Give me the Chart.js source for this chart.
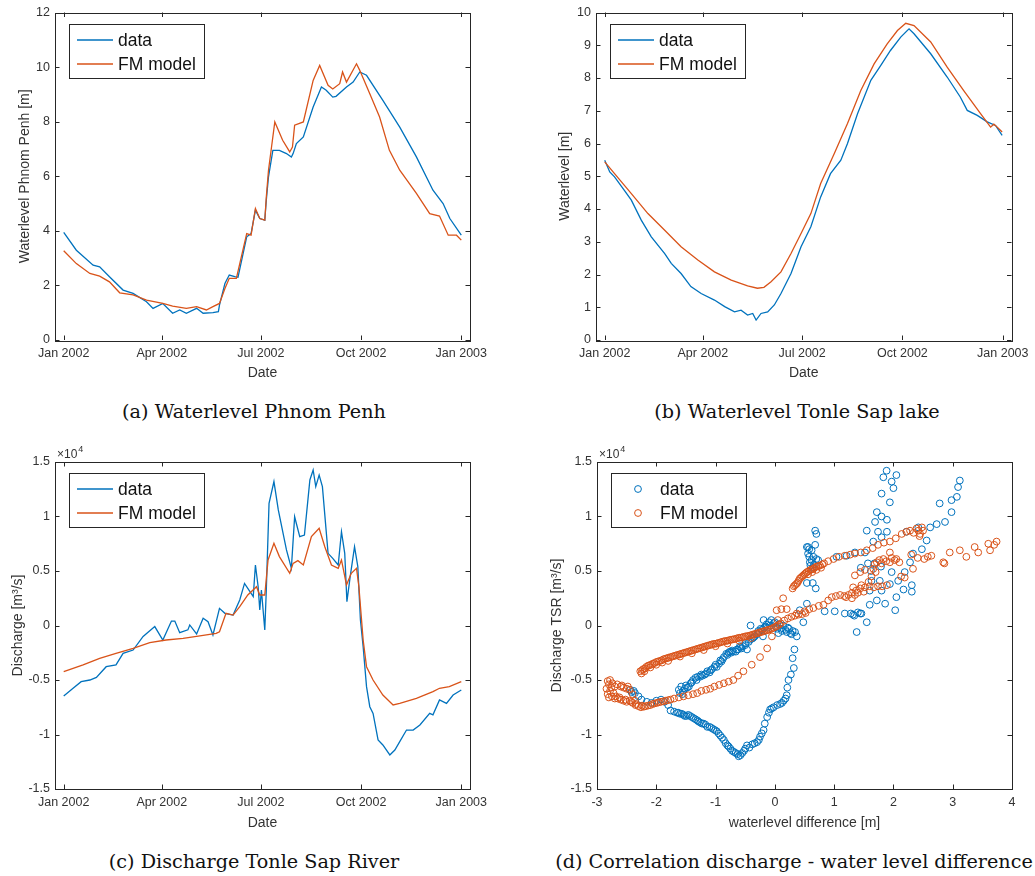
<!DOCTYPE html>
<html>
<head>
<meta charset="utf-8">
<script src="https://cdn.jsdelivr.net/npm/chart.js@4.4.1/dist/chart.umd.min.js"></script>
<style>
  body { margin: 0; background: #fff; }
  #fig { position: relative; width: 1035px; height: 876px; background: #fff; overflow: hidden; }
  .panel { position: absolute; }
  .caption {
    position: absolute; transform: translateX(-50%); white-space: nowrap;
    font-family: "DejaVu Serif", serif; font-size: 19.2px; line-height: 1; color: #111;
  }
</style>
</head>
<body>
<div id="fig">
  <div class="panel" style="left:0;top:0;width:515px;height:395px"><canvas id="chartA"></canvas></div>
  <div class="panel" style="left:515px;top:0;width:520px;height:395px"><canvas id="chartB"></canvas></div>
  <div class="panel" style="left:0;top:440px;width:515px;height:395px"><canvas id="chartC"></canvas></div>
  <div class="panel" style="left:515px;top:440px;width:520px;height:395px"><canvas id="chartD"></canvas></div>
  <div class="caption" style="left:254px;top:402px">(a) Waterlevel Phnom Penh</div>
  <div class="caption" style="left:797px;top:402px">(b) Waterlevel Tonle Sap lake</div>
  <div class="caption" style="left:254px;top:852px">(c) Discharge Tonle Sap River</div>
  <div class="caption" style="left:794px;top:852px">(d) Correlation discharge - water level difference</div>
</div>
<script>
const BLUE = '#0072BD';
const ORANGE = '#D95319';
const AXIS_COLOR = '#262626';
const TEXT_COLOR = '#333333';
const FONT = '"Liberation Sans", Arial, sans-serif';

// x axis of the time series: day of year 2002
const TICK_DAYS = [0, 90, 181, 273, 365];
const TICK_LABELS = ['Jan 2002', 'Apr 2002', 'Jul 2002', 'Oct 2002', 'Jan 2003'];

// (a) waterlevel Phnom Penh [m]
const ppDays = [0, 11.6, 27, 33, 42, 54.5, 63.7, 76, 82, 91, 100, 106.5, 112.6, 122, 128, 137, 142, 143, 148, 152,
  157, 160, 168, 172, 176, 180, 184.6, 186, 188, 192, 198, 204.5, 209, 210.6, 213.6, 220, 229, 236.6, 241, 247,
  250, 259.6, 265.7, 271.8, 278, 293, 308.5, 323.8, 339, 348.3, 354.5, 365];
const ppData = [3.94, 3.29, 2.74, 2.68, 2.32, 1.83, 1.71, 1.40, 1.16, 1.34, 0.98, 1.10, 0.98, 1.16, 0.98, 1.0, 1.04, 1.28, 2.07, 2.38,
  2.32, 2.3, 3.78, 3.9, 4.76, 4.45, 4.39, 5.12, 5.98, 6.95, 6.95, 6.83, 6.7, 6.83, 7.2, 7.44, 8.54, 9.27, 9.15, 8.9,
  8.93, 9.27, 9.45, 9.82, 9.7, 8.78, 7.8, 6.71, 5.49, 5.0, 4.45, 3.84];
const ppModelDays = [0, 11.6, 24, 33, 42, 51.4, 63.7, 76, 91, 100, 112.6, 122, 131, 137, 143, 148, 152, 158.5, 168, 172,
  176, 180, 184.6, 186, 188, 193.8, 201, 207.5, 210, 212, 220, 229, 235, 242.7, 247, 253.4, 256, 259.6, 268.8, 271.8,
  281, 290, 299, 308.5, 323.8, 336, 345, 353, 360.6, 365];
const ppModel = [3.27, 2.80, 2.44, 2.34, 2.13, 1.73, 1.65, 1.46, 1.34, 1.24, 1.16, 1.22, 1.10, 1.22, 1.34, 1.89, 2.26, 2.26, 3.9, 3.84,
  4.82, 4.45, 4.39, 5.24, 6.22, 7.99, 7.32, 6.89, 7.07, 7.87, 7.99, 9.51, 10.06, 9.33, 9.2, 9.39, 9.82, 9.45, 10.12, 9.88,
  9.02, 8.17, 6.95, 6.22, 5.37, 4.63, 4.54, 3.84, 3.84, 3.66];

// (b) waterlevel Tonle Sap lake [m]
const tslDays = [0, 4.6, 9, 18, 24.4, 33.5, 42.7, 55, 61, 70, 79, 88.4, 100.6, 110, 119, 125, 131, 135.7, 138.8, 143.3,
  149.4, 155.5, 161.6, 170.8, 180, 189, 198, 207, 216.5, 222.6, 231.8, 244, 253, 262, 271.4, 279, 283.6, 298.9, 314, 326,
  332.4, 341.6, 350.7, 358.3, 364.4];
const tslData = [5.49, 5.13, 4.98, 4.57, 4.27, 3.66, 3.15, 2.64, 2.34, 2.03, 1.63, 1.42, 1.22, 1.02, 0.86, 0.91, 0.76, 0.81, 0.61, 0.81,
  0.86, 1.07, 1.42, 2.03, 2.85, 3.46, 4.37, 5.08, 5.49, 6.0, 6.91, 7.93, 8.38, 8.84, 9.25, 9.5, 9.35, 8.74, 8.03, 7.42,
  7.01, 6.86, 6.66, 6.55, 6.25];
const tslModelDays = [0, 9, 24.4, 39.6, 55, 70, 85.4, 100.6, 116, 131, 140, 146, 152.5, 161.6, 170.8, 180, 189, 198, 210.4, 222.6,
  234.8, 247, 259, 268.4, 276, 283.6, 298.9, 314, 329, 344.6, 353.8, 356.8, 359.9, 364.4];
const tslModel = [5.44, 5.08, 4.47, 3.86, 3.35, 2.85, 2.44, 2.08, 1.83, 1.65, 1.58, 1.61, 1.78, 2.08, 2.64, 3.25, 3.86, 4.78, 5.69, 6.61,
  7.62, 8.43, 9.04, 9.45, 9.67, 9.6, 9.1, 8.33, 7.62, 6.91, 6.5, 6.59, 6.5, 6.35];

// (c) discharge Tonle Sap River [m3/s]
const tsrDays = [0, 8.6, 16, 24, 30, 39, 48, 54.5, 63.7, 72.9, 83.6, 91, 98.9, 102, 106.5, 114, 115.7, 122, 128, 132.5,
  137, 143, 148, 155.5, 161.6, 166, 169, 174, 176, 178.5, 180, 181.5, 184.6, 186, 188.5, 193, 197, 204.5, 209, 212,
  216.7, 221, 226, 229, 231.4, 234.5, 237.5, 242.7, 247, 252, 255, 258, 260, 263, 267, 270, 272.4, 274.9, 278, 281,
  284, 288.6, 293, 299.4, 304, 308.5, 314.7, 320.8, 327, 336, 339, 345, 351.4, 357.5, 365];
const tsrData = [-6470, -5760, -5150, -5000, -4760, -3780, -3620, -2550, -2250, -1000, -100, -1330, 410, 410, -660, -400, 50, -780, 660, 350,
  -870, 1570, 1120, 960, 2340, 3860, 3400, 2650, 5550, 3560, 1420, 3250, -410, 3250, 11200, 13200, 10600, 6930, 5250, 9980,
  8150, 8300, 13350, 14270, 12740, 13800, 12740, 6620, 6160, 5550, 8610, 6620, 2190, 4480, 7230, 5400, 500, -1940, -5610, -7450,
  -8060, -10500, -10960, -11880, -11420, -10660, -9590, -9590, -9130, -8060, -8200, -6830, -7140, -6380, -5920];
const tsrModelDays = [0, 17.8, 33, 48, 63.7, 79, 94, 109.6, 125, 140, 143, 149, 155.5, 161.6, 169, 177, 180, 184.6, 187.6, 193,
  198, 207.5, 210.6, 215, 220, 227.4, 234.5, 239.7, 245.8, 252, 255, 259.6, 264, 268.8, 271, 274.9, 278, 284, 293, 302.4,
  308.5, 323.8, 339, 345, 354, 365];
const tsrModel = [-4240, -3620, -3010, -2550, -2100, -1570, -1330, -1180, -960, -720, -570, 1120, 960, 1730, 2800, 3560, 2800, 2800, 6010, 7540,
  6320, 4790, 5700, 5950, 5550, 8150, 8910, 7230, 5550, 5250, 6010, 3720, 4790, 5250, 3560, -1330, -3780, -5000, -6380, -7290,
  -7140, -6680, -6070, -5760, -5610, -5150];

// (d) [waterlevel difference m, discharge m3/s]
const dataScatter = [
  [-1.6, -6200], [-1.55, -6000], [-1.52, -5800], [-1.58, -5600], [-1.5, -5500], [-1.45, -5600], [-1.42, -5300], [-1.38, -5000],
  [-1.34, -4800], [-1.3, -4700], [-1.26, -4700], [-1.22, -4600], [-1.18, -4500], [-1.14, -4200], [-1.1, -4300], [-1.06, -4000],
  [-1.02, -3800], [-0.98, -3800], [-0.94, -3500], [-0.9, -3300], [-0.86, -2900], [-0.82, -2600], [-0.78, -2500], [-0.74, -2500],
  [-0.7, -2400], [-0.66, -2400], [-0.62, -2200], [-0.58, -2000], [-0.54, -1900], [-0.5, -1800], [-0.47, -2200], [-0.44, -1500],
  [-0.41, 0], [-0.38, -1200], [-0.34, -1000], [-0.3, -800], [-0.26, -600], [-0.22, -400], [-0.19, 500], [-0.18, -200],
  [-0.14, 100], [-0.1, 300], [-0.06, 500], [-0.02, 200], [0.02, -100], [0.06, -700], [0.1, -300], [0.14, 0],
  [0.18, -400], [0.22, -200], [0.26, -700], [0.3, -500], [0.37, -1000], [-0.2, -1000], [-0.42, -1300], [-0.59, -1900], [-0.76, -2400],
  [-1.62, -5900], [-1.56, -6300], [-1.48, -5700], [-1.4, -5200], [-1.32, -5000], [-1.24, -4500], [-1.16, -4400], [-1.08, -4100],
  [-1.0, -3600], [-0.92, -3200], [-0.88, -3100], [-0.8, -2700], [-0.72, -2300], [-0.64, -2200], [-0.56, -2100], [-0.49, -1600],
  [-0.36, -1100], [-0.28, -500], [-0.16, -100], [-0.08, 0], [0.0, 300], [0.04, -300], [0.08, 100], [0.12, -500], [0.2, -600],
  [0.24, -300], [0.28, -800], [0.34, -600], [-0.12, -200], [-0.24, -300],
  [0.33, -2200], [0.3, -3000], [0.32, -3900], [0.23, -5000], [0.2, -6400], [0.15, -6900], [0.09, -7200], [-0.02, -7500],
  [-0.08, -7700], [-0.13, -8400], [-0.17, -9000], [-0.19, -9600], [-0.25, -10200], [-0.3, -10700], [-0.38, -10900], [-0.47, -11000],
  [-0.52, -11500], [-0.58, -11900], [-0.63, -11800], [-0.69, -11600], [-0.75, -11300], [-0.8, -11000], [-0.86, -10500], [-0.92, -10100],
  [-0.98, -9700], [-1.04, -9500], [-1.1, -9300], [-1.14, -9300], [-1.2, -9000], [-1.26, -8900], [-1.31, -8700], [-1.37, -8500],
  [-1.43, -8300], [-1.49, -8300], [-1.54, -8200], [-1.6, -8100], [-1.65, -8000], [-1.7, -7900], [-1.76, -7800], [-1.8, -7300],
  [-1.86, -7000], [-1.92, -6800], [-2.0, -6900], [-2.08, -7100], [-2.16, -7000], [-2.25, -6800], [-2.3, -6500], [-2.36, -6200],
  [-2.42, -6100], [-2.38, -6000], [-2.44, -5900],
  [-0.22, -9900], [-0.27, -10500], [-0.34, -10800], [-0.43, -11200], [-0.5, -11300], [-0.55, -11700], [-0.61, -12000], [-0.66, -11700],
  [-0.72, -11500], [-0.78, -11100], [-0.83, -10800], [-0.89, -10300], [-0.95, -9900], [-1.01, -9600], [-1.07, -9400], [-1.17, -9100],
  [-1.23, -9000], [-1.29, -8800], [-1.34, -8600], [-1.4, -8400], [-1.46, -8200], [-1.52, -8300], [-1.57, -8100], [-1.63, -8000],
  [-0.1, -8000], [-0.05, -7600], [0.04, -7300], [0.12, -7100], [0.18, -6700], [0.21, -5700], [0.27, -4500],
  [0.48, 300], [0.42, 1400], [0.54, 2000], [0.56, 7200], [0.56, 6600], [0.59, 5800], [0.62, 6000], [0.65, 6300], [0.68, 7400],
  [0.73, 6000], [0.68, 8700], [0.7, 8400], [0.64, 3900], [0.69, 3400], [0.54, 3900], [0.6, 5500], [0.54, 7200],
  [0.58, 6300], [0.62, 6900], [0.66, 5600], [0.7, 6100], [0.58, 7000], [0.64, 5300],
  [0.84, 1300], [1.01, 1300], [1.18, 1100], [1.32, 1000], [1.44, 1100], [1.38, -600], [1.55, 300], [1.6, 1900], [1.72, 2300],
  [1.86, 2000], [2.03, 1400], [2.05, 2600], [2.17, 3300], [2.31, 3700], [1.04, 6300], [1.21, 6400], [1.35, 6700], [1.45, 5300],
  [1.52, 6700], [1.62, 5000], [1.66, 7700], [1.55, 8700], [1.74, 8600], [1.89, 8600], [1.8, 8100], [1.69, 9500], [1.72, 10400],
  [1.8, 10000], [1.89, 9700], [1.8, 12100], [1.94, 11300], [1.83, 13600], [1.885, 14200], [1.97, 13200], [2.05, 13800],
  [2.0, 12600], [1.63, 4100], [1.77, 4100], [1.94, 3800], [2.08, 4100], [2.19, 4900], [2.28, 5800], [2.33, 6600], [2.48, 7000],
  [2.56, 7800], [2.22, 8600], [2.42, 9000], [2.62, 9000], [2.73, 9300], [2.87, 9500], [2.78, 11200], [2.98, 10400],
  [2.98, 11500], [3.07, 11800], [3.09, 12700], [3.12, 13300], [1.6, 3200], [1.8, 3200], [2.31, 3100], [1.97, 4900],
  [1.46, 1100], [1.68, 5700], [1.79, 5400], [1.57, 5700], [1.34, 900], [1.28, 1100], [1.4, 1200]
];
const fmScatter = [
  [-2.27, -4200], [-2.25, -4400], [-2.22, -4000], [-2.2, -4200], [-2.17, -3800], [-2.12, -3650], [-2.1, -3850], [-2.06, -3500],
  [-2.0, -3350], [-1.94, -3250], [-1.9, -3400], [-1.88, -3100], [-1.82, -3000], [-1.76, -2900], [-1.7, -2800], [-1.64, -2700],
  [-1.58, -2600], [-1.52, -2500], [-1.46, -2400], [-1.4, -2300], [-1.34, -2200], [-1.28, -2100], [-1.22, -2000], [-1.16, -1900],
  [-1.1, -1800], [-1.04, -1700], [-0.98, -1650], [-0.92, -1550], [-0.86, -1450], [-0.8, -1400], [-0.74, -1300], [-0.68, -1250],
  [-0.62, -1150], [-0.56, -1100], [-0.5, -1000], [-0.44, -950], [-0.38, -850], [-0.32, -750], [-0.26, -650], [-0.2, -550],
  [-0.14, -450], [-0.08, -350], [-0.02, -200], [0.04, -50], [0.1, 200], [0.16, 450], [0.22, 650], [0.28, 800],
  [0.34, 900], [0.4, 1000], [0.46, 1050], [0.52, 1150],
  [-2.24, -4100], [-2.19, -3950], [-2.14, -3700], [-2.09, -3600], [-2.03, -3450], [-1.97, -3300], [-1.91, -3200], [-1.85, -3050],
  [-1.79, -2950], [-1.73, -2850], [-1.67, -2750], [-1.61, -2650], [-1.55, -2550], [-1.49, -2450], [-1.43, -2350], [-1.37, -2250],
  [-1.31, -2150], [-1.25, -2050], [-1.19, -1950], [-1.13, -1850], [-1.07, -1750], [-1.01, -1680], [-0.95, -1600], [-0.89, -1500],
  [-0.83, -1420], [-0.77, -1350], [-0.71, -1280], [-0.65, -1200], [-0.59, -1120], [-0.53, -1050], [-0.47, -980], [-0.41, -900],
  [-0.35, -800], [-0.29, -700], [-0.23, -600], [-0.17, -500], [-0.11, -400], [-0.05, -280], [0.01, -120], [0.07, 80],
  [-2.0, -3600], [-1.8, -3250], [-1.6, -2850], [-1.4, -2550], [-1.2, -2250], [-1.0, -1900], [-0.8, -1650], [-0.6, -1400],
  [-0.4, -1150],
  [0.03, 1400], [0.14, 2500], [0.11, 1500], [0.37, 1100], [0.5, 1300], [0.58, 1500], [0.65, 1600], [0.74, 1800],
  [0.82, 1900], [0.9, 2300], [0.96, 2600], [1.03, 2700], [1.1, 2800], [1.17, 2700], [1.24, 2800], [1.3, 3000],
  [1.37, 3200], [1.44, 3400], [1.52, 3500], [1.6, 3600], [1.67, 3500], [1.74, 3600], [1.81, 3600], [1.89, 3700],
  [0.3, 3400], [0.34, 3700], [0.38, 3900], [0.42, 4300], [0.46, 4500], [0.5, 4700], [0.54, 4900], [0.6, 5100],
  [0.65, 5200], [0.7, 5400], [0.76, 5500], [0.83, 5700], [0.9, 5900], [0.99, 6100], [1.08, 6300], [1.18, 6400],
  [1.27, 6500], [1.35, 6600], [1.45, 6700], [1.55, 6900], [1.65, 7100], [1.74, 7400], [1.84, 7600], [1.94, 7700],
  [2.04, 8000], [2.14, 8400], [2.22, 8600], [2.28, 8700], [2.34, 8500], [2.39, 8900], [2.42, 8700], [2.45, 8400],
  [2.48, 9000], [2.5, 8700], [2.44, 8200],
  [0.32, 3600], [0.36, 3800], [0.4, 4100], [0.44, 4400], [0.48, 4600], [0.52, 4800], [0.57, 5000], [0.62, 5150],
  [0.67, 5300], [0.73, 5450], [0.8, 5600], [0.56, 4700], [0.63, 4900], [0.7, 5100], [0.78, 5300],
  [1.2, 2600], [1.3, 2500], [1.35, 2800], [1.4, 3000], [1.5, 3100], [1.35, 4600], [1.44, 4900], [1.52, 5100],
  [1.58, 4000], [1.63, 4500], [1.66, 5200], [1.68, 5600], [1.72, 5800], [1.76, 6000], [1.8, 5700], [1.83, 6100],
  [1.88, 5900], [1.94, 5800], [1.97, 6200], [2.02, 6000], [2.05, 6100], [2.1, 5800], [2.13, 4500], [2.19, 4400],
  [1.94, 6700], [1.7, 4900], [1.32, 3500], [1.46, 3700], [2.3, 6500], [2.33, 5200], [2.41, 6200], [2.52, 6100],
  [2.58, 6300], [2.64, 6400], [2.84, 5800], [2.86, 5700], [2.95, 6700], [3.12, 6900], [3.23, 6300], [3.37, 7200],
  [3.43, 6700], [3.6, 7500], [3.63, 6900], [3.7, 7400], [3.74, 7700],
  [0.2, 1500], [0.05, 500], [-0.05, -1000], [-0.13, -2100], [-0.25, -2900], [-0.39, -3600],
  [-0.53, -4200], [-0.62, -4600], [-0.7, -5000], [-0.78, -5150], [-0.86, -5300], [-0.94, -5450], [-1.02, -5600], [-1.09, -5800],
  [-1.16, -5900], [-1.24, -6000], [-1.31, -6200], [-1.38, -6300], [-1.46, -6400], [-1.54, -6500], [-1.62, -6600], [-1.7, -6700],
  [-1.76, -6800], [-1.84, -6900], [-1.92, -7000], [-1.99, -7100], [-2.06, -7200], [-2.14, -7350], [-2.21, -7450], [-2.26, -7500],
  [-1.8, -6850], [-1.88, -6950], [-1.96, -7050], [-2.03, -7150], [-2.1, -7300], [-2.18, -7400], [-2.24, -7350],
  [-2.3, -7400], [-2.35, -7300], [-2.4, -7100], [-2.45, -6900], [-2.5, -7000], [-2.55, -6900], [-2.6, -6800], [-2.65, -6700],
  [-2.7, -6700], [-2.75, -6500], [-2.8, -6600], [-2.82, -6300], [-2.84, -5800], [-2.78, -6000], [-2.82, -5100], [-2.78, -5000],
  [-2.74, -5300], [-2.7, -5600], [-2.66, -5400], [-2.6, -5600], [-2.55, -5700], [-2.5, -5800], [-2.45, -5900], [-2.4, -6300],
  [-2.36, -6900], [-2.8, -5400], [-2.76, -5700], [-2.72, -6200], [-2.68, -6500], [-2.62, -6600], [-2.52, -6800], [-2.42, -7000],
  [-2.34, -7200], [-2.58, -5500], [-2.48, -5600]
];

// box around the axes with inward ticks on all four sides, like the original
const framePlugin = {
  id: 'frame',
  afterDatasetsDraw(chart) {
    const { ctx, chartArea: a, scales } = chart;
    const len = 4.5;
    ctx.save();
    ctx.strokeStyle = AXIS_COLOR;
    ctx.lineWidth = 1;
    ctx.beginPath();
    scales.x.ticks.forEach(t => {
      const px = Math.round(scales.x.getPixelForValue(t.value)) + 0.5;
      ctx.moveTo(px, a.bottom); ctx.lineTo(px, a.bottom - len);
      ctx.moveTo(px, a.top); ctx.lineTo(px, a.top + len);
    });
    scales.y.ticks.forEach(t => {
      const py = Math.round(scales.y.getPixelForValue(t.value)) + 0.5;
      ctx.moveTo(a.left, py); ctx.lineTo(a.left + len, py);
      ctx.moveTo(a.right, py); ctx.lineTo(a.right - len, py);
    });
    ctx.stroke();
    ctx.strokeRect(Math.round(a.left) + 0.5, Math.round(a.top) + 0.5, Math.round(a.width), Math.round(a.height));
    ctx.restore();
  }
};

// matlab style legend box in the upper left corner
const boxLegendPlugin = {
  id: 'boxLegend',
  afterDraw(chart, args, opts) {
    const { ctx, chartArea: a } = chart;
    const x0 = Math.round(a.left) + 14, y0 = Math.round(a.top) + 11, w = 135, h = 54;
    ctx.save();
    ctx.fillStyle = '#fff';
    ctx.fillRect(x0, y0, w, h);
    ctx.strokeStyle = AXIS_COLOR;
    ctx.lineWidth = 1;
    ctx.strokeRect(x0 + 0.5, y0 + 0.5, w, h);
    ctx.font = '17.5px ' + FONT;
    ctx.textBaseline = 'middle';
    chart.data.datasets.forEach((ds, i) => {
      const cy = y0 + 16 + i * 24;
      ctx.strokeStyle = ds.borderColor;
      ctx.lineWidth = opts.marker === 'circle' ? 1 : 1.3;
      ctx.beginPath();
      if (opts.marker === 'circle') ctx.arc(x0 + 27, cy, 3.4, 0, Math.PI * 2);
      else { ctx.moveTo(x0 + 8, cy); ctx.lineTo(x0 + 44, cy); }
      ctx.stroke();
      ctx.fillStyle = '#111';
      ctx.fillText(ds.label, x0 + 49, cy + 1);
    });
    ctx.restore();
  }
};

// "x10^4" exponent above the y axis
const exponentPlugin = {
  id: 'exponent',
  afterDraw(chart) {
    const { ctx, chartArea: a } = chart;
    ctx.save();
    ctx.fillStyle = TEXT_COLOR;
    ctx.textBaseline = 'middle';
    ctx.font = '12px ' + FONT;
    ctx.fillText('×10', a.left + 2, a.top - 7);
    const w = ctx.measureText('×10').width;
    ctx.font = '9px ' + FONT;
    ctx.fillText('4', a.left + 3 + w, a.top - 12);
    ctx.restore();
  }
};

function tickFont() { return { family: FONT, size: 12.5 }; }
function titleFont() { return { family: FONT, size: 14, lineHeight: 1 }; }

function xAxis(g, extra) {
  return Object.assign({
    type: 'linear',
    afterFit: s => { s.height = g.H - g.bottom; },
    grid: { display: false, drawTicks: false },
    border: { display: false },
    ticks: { color: TEXT_COLOR, font: tickFont(), padding: 6, maxRotation: 0, autoSkip: false },
    title: { display: true, text: g.xTitle, color: TEXT_COLOR, font: titleFont(),
      padding: { top: 0, bottom: g.H - g.xTitleY - 7 } }
  }, extra);
}

function yAxis(g, extra) {
  return Object.assign({
    type: 'linear',
    afterFit: s => { s.width = g.left; },
    grid: { display: false, drawTicks: false },
    border: { display: false },
    ticks: { color: TEXT_COLOR, font: tickFont(), padding: 5, autoSkip: false },
    title: { display: true, text: g.yTitle, color: TEXT_COLOR, font: titleFont(),
      padding: { top: g.yTitleX - 7, bottom: 0 } }
  }, extra);
}

function timeAxis(g) {
  return xAxis(g, {
    min: -8, max: 373,
    afterBuildTicks: s => { s.ticks = TICK_DAYS.map(v => ({ value: v })); }
  });
}

function points(xs, ys) {
  return xs.map((x, i) => ({ x, y: ys[i] }));
}

function baseOptions(g, scales, marker) {
  return {
    responsive: true,
    maintainAspectRatio: false,
    animation: false,
    layout: { padding: { left: 0, top: g.top, right: g.W - g.right, bottom: 0 } },
    plugins: { legend: { display: false }, tooltip: { enabled: false }, boxLegend: { marker } },
    scales
  };
}

function lineDataset(label, xs, ys, color, order) {
  return {
    label, data: points(xs, ys), borderColor: color, backgroundColor: color,
    borderWidth: 1.3, pointRadius: 0, tension: 0, order
  };
}

function createTimeChart(id, g, series, yExtra, extraPlugins) {
  const x = timeAxis(g);
  x.ticks.callback = v => TICK_LABELS[TICK_DAYS.indexOf(v)];
  return new Chart(document.getElementById(id), {
    type: 'line',
    data: {
      datasets: [
        lineDataset('data', series[0], series[1], BLUE, 1),
        lineDataset('FM model', series[2], series[3], ORANGE, 0)
      ]
    },
    options: baseOptions(g, { x, y: yAxis(g, yExtra) }, 'line'),
    plugins: [framePlugin, boxLegendPlugin].concat(extraPlugins || [])
  });
}

const expTicks = { color: TEXT_COLOR, font: tickFont(), padding: 5, stepSize: 5000, callback: v => String(v / 10000) };

createTimeChart('chartA',
  { W: 515, H: 395, left: 55, right: 470, top: 12, bottom: 340, xTitleY: 373, yTitleX: 25,
    xTitle: 'Date', yTitle: 'Waterlevel Phnom Penh [m]' },
  [ppDays, ppData, ppModelDays, ppModel],
  { min: 0, max: 12, ticks: { color: TEXT_COLOR, font: tickFont(), padding: 5, stepSize: 2 } });

createTimeChart('chartB',
  { W: 520, H: 395, left: 81, right: 497, top: 12, bottom: 340, xTitleY: 373, yTitleX: 50,
    xTitle: 'Date', yTitle: 'Waterlevel [m]' },
  [tslDays, tslData, tslModelDays, tslModel],
  { min: 0, max: 10, ticks: { color: TEXT_COLOR, font: tickFont(), padding: 5, stepSize: 1 } });

createTimeChart('chartC',
  { W: 515, H: 395, left: 55, right: 470, top: 22, bottom: 349, xTitleY: 383, yTitleX: 18,
    xTitle: 'Date', yTitle: 'Discharge [m³/s]' },
  [tsrDays, tsrData, tsrModelDays, tsrModel],
  { min: -15000, max: 15000, ticks: expTicks }, [exponentPlugin]);

const gD = { W: 520, H: 395, left: 82, right: 497, top: 22, bottom: 349, xTitleY: 383, yTitleX: 42,
  xTitle: 'waterlevel difference [m]', yTitle: 'Discharge TSR [m³/s]' };
const xD = xAxis(gD, { min: -3, max: 4 });
xD.ticks.stepSize = 1;

new Chart(document.getElementById('chartD'), {
  type: 'scatter',
  data: {
    datasets: [
      { label: 'data', data: dataScatter.map(p => ({ x: p[0], y: p[1] })), borderColor: BLUE,
        backgroundColor: 'rgba(0,0,0,0)', pointRadius: 3.4, borderWidth: 1, order: 1 },
      { label: 'FM model', data: fmScatter.map(p => ({ x: p[0], y: p[1] })), borderColor: ORANGE,
        backgroundColor: 'rgba(0,0,0,0)', pointRadius: 3.4, borderWidth: 1, order: 0 }
    ]
  },
  options: baseOptions(gD, { x: xD, y: yAxis(gD, { min: -15000, max: 15000, ticks: expTicks }) }, 'circle'),
  plugins: [framePlugin, boxLegendPlugin, exponentPlugin]
});
</script>
</body>
</html>
